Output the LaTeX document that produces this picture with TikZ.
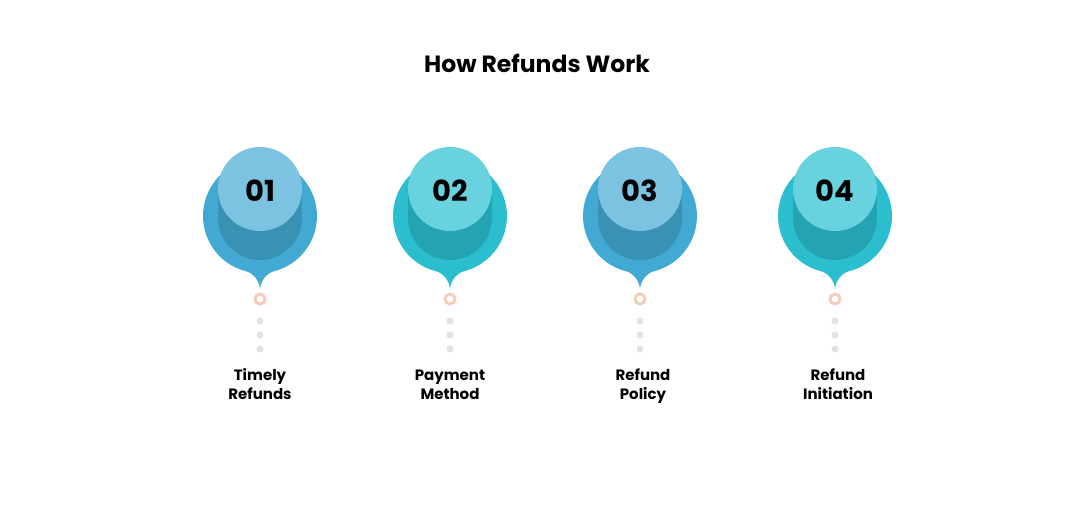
\documentclass[tikz,border=0pt]{standalone}
\usepackage{fontspec}
\setmainfont{Poppins}
\usetikzlibrary{positioning}
\definecolor{blue1}{HTML}{42AAD2}
\definecolor{blue2}{HTML}{7BC3E0}
\definecolor{blue3}{HTML}{3991B4}
\definecolor{teal1}{HTML}{2BBECE}
\definecolor{teal2}{HTML}{68D2DF}
\definecolor{teal3}{HTML}{24A3B2}
\definecolor{peach1}{HTML}{F6CDBD}
\definecolor{grey1}{HTML}{E4E1DF}

% pin: x, outer colour, shadow colour, top colour
\newcommand{\refundpin}[4]{%
  \fill[#2] (#1,290) .. controls (#1,281) and (#1-7,273) .. (#1-13.8,271.3)
      arc[start angle=104,end angle=436,radius=57]
      .. controls (#1+7,273) and (#1,281) .. (#1,290) -- cycle;
  \fill[#3] (#1,218) circle[radius=42];
  \fill[#3] (#1-42,189) rectangle (#1+42,218);
  \fill[#4] (#1,189) circle[radius=42];
}

\begin{document}
\begin{tikzpicture}[x=1pt,y=-1pt,
        numtext/.style={font=\fontsize{29}{31}\selectfont\bfseries,anchor=base},
        ringmark/.style={circle,draw=peach1,line width=3pt,minimum size=10pt,inner sep=0pt},
        dotmark/.style={circle,fill=grey1,minimum size=7pt,inner sep=0pt},
        steptext/.style={font=\fontsize{15}{19}\selectfont\bfseries,align=center,anchor=north}]
    \fill[white] (0,0) rectangle (1080,513);
    \useasboundingbox (0,0) rectangle (1080,513);

    \node[font=\fontsize{23.5}{26}\selectfont\bfseries,anchor=base] (title) at (537,73) {How Refunds Work};

    \refundpin{260}{blue1}{blue3}{blue2}
    \refundpin{450}{teal1}{teal3}{teal2}
    \refundpin{640}{blue1}{blue3}{blue2}
    \refundpin{835}{teal1}{teal3}{teal2}

    \node[numtext] (n1) at (260,201.5) {01};
    \node[numtext] (n2) at (450,201.5) {02};
    \node[numtext] (n3) at (640,201.5) {03};
    \node[numtext] (n4) at (835,201.5) {04};

    \node[ringmark] (r1) at (260,299) {};
    \node[ringmark] (r2) at (450,299) {};
    \node[ringmark] (r3) at (640,299) {};
    \node[ringmark] (r4) at (835,299) {};

    \node[dotmark] (a1) at (260,321) {};
    \node[dotmark] (b1) at (260,335) {};
    \node[dotmark] (c1) at (260,349) {};
    \node[dotmark] (a2) at (450,321) {};
    \node[dotmark] (b2) at (450,335) {};
    \node[dotmark] (c2) at (450,349) {};
    \node[dotmark] (a3) at (640,321) {};
    \node[dotmark] (b3) at (640,335) {};
    \node[dotmark] (c3) at (640,349) {};
    \node[dotmark] (a4) at (835,321) {};
    \node[dotmark] (b4) at (835,335) {};
    \node[dotmark] (c4) at (835,349) {};

    \node[steptext] (s1) at (260,363.8) {\strut Timely\\Refunds};
    \node[steptext] (s2) at (450,363.8) {\strut Payment\\Method};
    \node[steptext] (s3) at (643,363.8) {\strut Refund\\Policy};
    \node[steptext] (s4) at (838,363.8) {\strut Refund\\Initiation};
\end{tikzpicture}
\end{document}
